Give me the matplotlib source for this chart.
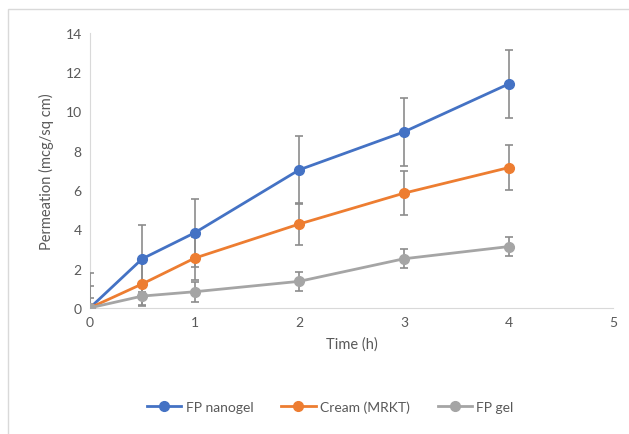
import numpy as np
import matplotlib
matplotlib.use("Agg")
from matplotlib import pyplot as plt
from matplotlib.patches import Rectangle
from matplotlib.lines import Line2D

plt.rcParams['font.family'] = ['Lato', 'DejaVu Sans']

### data ###

time_h = [0, 0.5, 1, 2, 3, 4]

nanogel = [0.0, 2.5, 3.82, 7.03, 8.96, 11.4]
nanogel_err = [1.75, 1.7, 1.73, 1.73, 1.75, 1.75]

cream = [0.0, 1.22, 2.53, 4.27, 5.84, 7.14]
cream_err = [1.1, 1.1, 1.1, 1.09, 1.12, 1.13]

gel = [0.0, 0.6, 0.82, 1.35, 2.5, 3.12]
gel_err = [0.5, 0.5, 0.5, 0.49, 0.48, 0.48]

series = [("FP nanogel", nanogel, nanogel_err, "#4472C4"),
          ("Cream (MRKT)", cream, cream_err, "#ED7D31"),
          ("FP gel", gel, gel_err, "#A5A5A5")]

### plot ###

fig = plt.figure(figsize=(6.29, 4.35), dpi=100)
fig.patches.append(Rectangle((8/629, -0.01), 1.0, 1 - 10/435 + 0.01,
                             transform=fig.transFigure, fill=False,
                             edgecolor="#D9D9D9", linewidth=1))
ax = fig.add_axes([0.143, 0.29, 0.832, 0.632])

text_col = "#595959"
handles = []
for name, vals, errs, col in series:
    ax.errorbar(time_h, vals, yerr=errs, color=col, marker='o', markersize=7,
                linewidth=2, ecolor="#8C8C8C", elinewidth=1.2, capsize=3,
                capthick=1.2, zorder=3)
    handles.append(Line2D([], [], color=col, marker='o', markersize=7,
                          linewidth=2, label=name))

ax.set_xlim(0, 5)
ax.set_ylim(0, 14)
ax.set_xticks(range(0, 6))
ax.set_yticks(range(0, 15, 2))
ax.tick_params(length=0, labelsize=10, colors=text_col, pad=6)
for s in ["top", "right"]:
    ax.spines[s].set_visible(False)
ax.spines["left"].set_color("#D9D9D9")
ax.spines["bottom"].set_color("#D9D9D9")
ax.set_xlabel("Time (h)", fontsize=10.5, color=text_col, labelpad=6)
ax.set_ylabel("Permeation (mcg/sq cm)", fontsize=10.5, color=text_col, labelpad=8)

ax.legend(handles=handles, loc="center", bbox_to_anchor=(0.525, 0.062),
          bbox_transform=fig.transFigure, ncol=3, frameon=False, fontsize=10,
          labelcolor=text_col, handlelength=2.5, columnspacing=2.0,
          handletextpad=0.3)

fig.savefig("out.png", dpi=100)
